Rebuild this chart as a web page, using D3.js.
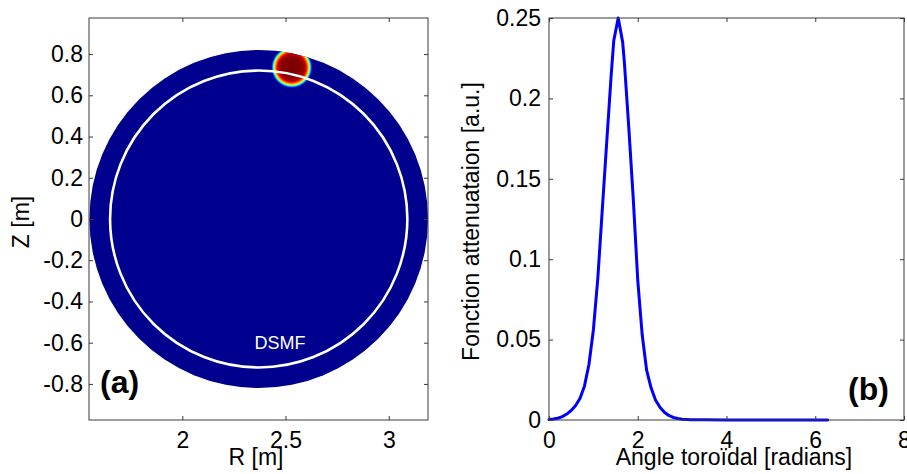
<!DOCTYPE html>
<html>
<head>
<meta charset="utf-8">
<script src="https://cdn.jsdelivr.net/npm/d3@7"></script>
<style>
  html, body { margin: 0; padding: 0; background: #fff; }
  svg { display: block; font-family: "Liberation Sans", Arial, sans-serif; }
</style>
</head>
<body>
<svg id="chart" width="907" height="474"></svg>
<script>
// ---------- data ----------
// panel (a): poloidal cross-section
const plasmaCenter = [2.37, 0];      // R, Z [m]
const plasmaRadius = [0.82];         // outer boundary [m]
const dsmfRadius = [0.72];           // white DSMF circle [m]
const blobCenter = [2.53, 0.735];    // hot spot [m]
const blobRadius = [0.10];           // [m]
const leftXDomain = [1.548, 3.19];
const leftYDomain = [-0.975, 0.975];
const leftXTicks = [2, 2.5, 3];
const leftXTickLabels = ["2", "2.5", "3"];
const leftYTicks = [-0.8, -0.6, -0.4, -0.2, 0, 0.2, 0.4, 0.6, 0.8];
const leftYTickLabels = ["-0.8", "-0.6", "-0.4", "-0.2", "0", "0.2", "0.4", "0.6", "0.8"];

// panel (b): attenuation function vs toroidal angle
const angle = [0, 0.1, 0.2, 0.3, 0.4, 0.5, 0.6, 0.7, 0.8, 0.9, 1.0, 1.1, 1.2, 1.3, 1.4, 1.46, 1.56,
               1.66, 1.7, 1.8, 1.9, 2.0, 2.1, 2.2, 2.3, 2.4, 2.5, 2.6, 2.7, 2.8, 2.9, 3.0, 3.2, 3.5,
               4.0, 4.5, 5.0, 5.5, 6.0, 6.28];
const attenuation = [0.0003, 0.0006, 0.0011, 0.0021, 0.0037, 0.0059, 0.0090, 0.0135, 0.0212, 0.0345,
                     0.0560, 0.0880, 0.1305, 0.1725, 0.2140, 0.2360, 0.2500,
                     0.2350, 0.2220, 0.1810, 0.1370, 0.0870, 0.0530, 0.0310, 0.0200, 0.0125, 0.0079,
                     0.0048, 0.0028, 0.0016, 0.0009, 0.0005, 0.0002, 0.0001,
                     0, 0, 0, 0, 0, 0];
const rightXDomain = [0, 8];
const rightYDomain = [0, 0.25];
const rightXTicks = [0, 2, 4, 6, 8];
const rightXTickLabels = ["0", "2", "4", "6", "8"];
const rightYTicks = [0, 0.05, 0.1, 0.15, 0.2, 0.25];
const rightYTickLabels = ["0", "0.05", "0.1", "0.15", "0.2", "0.25"];

// ---------- drawing ----------
const svg = d3.select("#chart");
const FS = 23;
const axisColor = "#3a3a3a";
const jetBlue = "#00008f";

function frame(g, x, y, xt, xl, yt, yl, xpad, ypad) {
  const [x0, x1] = x.range();
  const [y0, y1] = y.range(); // y0 bottom, y1 top
  const mk = (axis) => axis.tickSizeOuter(0);
  g.append("g").attr("transform", `translate(0,${y0})`)
    .call(mk(d3.axisBottom(x).tickValues(xt).tickFormat((d, i) => xl[i]).tickSizeInner(-4).tickPadding(xpad)));
  g.append("g").attr("transform", `translate(0,${y1})`)
    .call(mk(d3.axisTop(x).tickValues(xt).tickFormat("").tickSizeInner(-4)));
  g.append("g").attr("transform", `translate(${x0},0)`)
    .call(mk(d3.axisLeft(y).tickValues(yt).tickFormat((d, i) => yl[i]).tickSizeInner(-4).tickPadding(ypad)));
  g.append("g").attr("transform", `translate(${x1},0)`)
    .call(mk(d3.axisRight(y).tickValues(yt).tickFormat("").tickSizeInner(-4)));
  g.selectAll(".domain").remove();
  g.selectAll(".tick line").attr("stroke", axisColor);
  g.selectAll(".tick text").attr("font-size", FS).attr("font-family", "Liberation Sans, Arial, sans-serif").attr("fill", "#000");
  g.append("rect").attr("x", x0).attr("y", y1).attr("width", x1 - x0).attr("height", y0 - y1)
    .attr("fill", "none").attr("stroke", axisColor).attr("stroke-width", 1);
}

// ===== Panel (a) =====
const xa = d3.scaleLinear().domain(leftXDomain).range([89, 428]);
const ya = d3.scaleLinear().domain(leftYDomain).range([420, 18]);
const ga = svg.append("g");

const defs = svg.append("defs");
defs.append("clipPath").attr("id", "plasmaClip")
  .append("ellipse")
  .attr("cx", xa(plasmaCenter[0])).attr("cy", ya(plasmaCenter[1]))
  .attr("rx", xa(plasmaCenter[0] + plasmaRadius[0]) - xa(plasmaCenter[0]))
  .attr("ry", ya(plasmaCenter[1]) - ya(plasmaCenter[1] + plasmaRadius[0]));

const jetStops = [
  [0, "#7c0000"], [0.5, "#860000"], [0.66, "#b80000"], [0.73, "#ff1a00"],
  [0.8, "#ffb000"], [0.85, "#d0ff30"], [0.89, "#30ffd0"], [0.93, "#0090ff"],
  [0.97, "#0018e0"], [1, jetBlue]
];
const grad = defs.append("radialGradient").attr("id", "blobGrad");
grad.selectAll("stop").data(jetStops).join("stop")
  .attr("offset", d => d[0]).attr("stop-color", d => d[1]);

ga.append("ellipse")
  .attr("cx", xa(plasmaCenter[0])).attr("cy", ya(plasmaCenter[1]))
  .attr("rx", xa(plasmaCenter[0] + plasmaRadius[0]) - xa(plasmaCenter[0]))
  .attr("ry", ya(plasmaCenter[1]) - ya(plasmaCenter[1] + plasmaRadius[0]))
  .attr("fill", jetBlue);

ga.append("ellipse")
  .attr("clip-path", "url(#plasmaClip)")
  .attr("cx", xa(blobCenter[0])).attr("cy", ya(blobCenter[1]))
  .attr("rx", xa(blobCenter[0] + blobRadius[0]) - xa(blobCenter[0]))
  .attr("ry", ya(blobCenter[1]) - ya(blobCenter[1] + blobRadius[0]))
  .attr("fill", "url(#blobGrad)");

ga.append("ellipse")
  .attr("cx", xa(plasmaCenter[0])).attr("cy", ya(plasmaCenter[1]))
  .attr("rx", xa(plasmaCenter[0] + dsmfRadius[0]) - xa(plasmaCenter[0]))
  .attr("ry", ya(plasmaCenter[1]) - ya(plasmaCenter[1] + dsmfRadius[0]))
  .attr("fill", "none").attr("stroke", "#fff").attr("stroke-width", 2.6);

ga.append("text").attr("x", 280).attr("y", 349).attr("text-anchor", "middle")
  .attr("font-size", 18).attr("fill", "#fff").text("DSMF");

frame(ga, xa, ya, leftXTicks, leftXTickLabels, leftYTicks, leftYTickLabels, 12, 6);

ga.append("text").attr("x", 100).attr("y", 393).attr("font-size", 32).attr("font-weight", "bold").text("(a)");
ga.append("text").attr("x", 256).attr("y", 464.5).attr("text-anchor", "middle").attr("font-size", FS).text("R [m]");
ga.append("text").attr("transform", "translate(28.5,222) rotate(-90)").attr("text-anchor", "middle")
  .attr("font-size", FS).text("Z [m]");

// ===== Panel (b) =====
const xb = d3.scaleLinear().domain(rightXDomain).range([549, 904]);
const yb = d3.scaleLinear().domain(rightYDomain).range([420, 18]);
const gb = svg.append("g");

const line = d3.line().x((d, i) => xb(angle[i])).y((d, i) => yb(attenuation[i]));
gb.append("path").datum(attenuation).attr("d", line)
  .attr("fill", "none").attr("stroke", "#0000ff").attr("stroke-width", 3)
  .attr("stroke-linejoin", "round").attr("stroke-linecap", "round");

frame(gb, xb, yb, rightXTicks, rightXTickLabels, rightYTicks, rightYTickLabels, 12, 8);

gb.append("text").attr("x", 848).attr("y", 400).attr("font-size", 32).attr("font-weight", "bold").text("(b)");
gb.append("text").attr("x", 734).attr("y", 464.5).attr("text-anchor", "middle").attr("font-size", FS)
  .text("Angle toroïdal [radians]");
gb.append("text").attr("transform", "translate(478.5,221.5) rotate(-90)").attr("text-anchor", "middle")
  .attr("font-size", FS).text("Fonction attenuataion [a.u.]");
</script>
</body>
</html>
